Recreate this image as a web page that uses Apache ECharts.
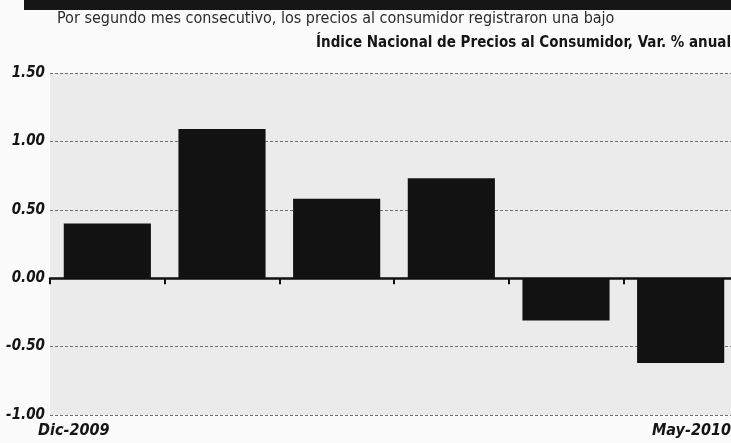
<!DOCTYPE html>
<html>
<head>
<meta charset="utf-8">
<script src="https://cdn.jsdelivr.net/npm/echarts@6/dist/echarts.min.js"></script>
<style>
    html, body { margin: 0; padding: 0; background: #fbfbfb; overflow: hidden; }
    /* el grafico original sale cortado por la derecha */
    #chart { width: 738px; height: 443px; }
</style>
</head>
<body>
<div id="chart"></div>
<script>
// datos
const categories = ['Dic-2009', 'Ene-2010', 'Feb-2010', 'Mar-2010', 'Abr-2010', 'May-2010'];
const inpcVar = [0.40, 1.09, 0.58, 0.73, -0.31, -0.62];
const yTicks = [-1.0, -0.5, 0.0, 0.5, 1.0, 1.5];

const subtitle = 'Por segundo mes consecutivo, los precios al consumidor registraron una bajo';
const title = 'Índice Nacional de Precios al Consumidor, Var. % anual';

const FONT = "'Liberation Sans Narrow', 'DejaVu Sans Condensed', 'Liberation Sans', sans-serif";

const chart = echarts.init(document.getElementById('chart'));

chart.setOption({
    backgroundColor: '#fbfbfb',
    animation: false,
    textStyle: { fontFamily: FONT },
    graphic: [
        // franja negra superior
        { type: 'rect', left: 24, top: 0, shape: { width: 714, height: 10 }, style: { fill: '#161616' } },
        { type: 'text', left: 57, top: 11, style: { text: subtitle, fill: '#2a2a2a', font: '16px ' + FONT } },
        { type: 'text', right: 7, top: 36, style: { text: title, fill: '#151515', font: 'bold 15px ' + FONT } },
        { type: 'text', left: 38, top: 423, style: { text: categories[0], fill: '#151515', font: 'italic bold 16px ' + FONT } },
        { type: 'text', right: 7, top: 423, style: { text: categories[categories.length - 1], fill: '#151515', font: 'italic bold 16px ' + FONT } }
    ],
    grid: {
        left: 50,
        right: 0,
        top: 73,
        bottom: 28,
        show: true,
        backgroundColor: '#ebebeb',
        borderWidth: 0
    },
    xAxis: {
        type: 'category',
        data: categories,
        axisLine: { onZero: true, lineStyle: { color: '#111', width: 2.5 } },
        axisTick: { show: true, length: 6, lineStyle: { color: '#111', width: 2 } },
        axisLabel: { show: false },
        splitLine: { show: false }
    },
    yAxis: {
        type: 'value',
        min: yTicks[0],
        max: yTicks[yTicks.length - 1],
        interval: 0.5,
        axisLine: { show: false },
        axisTick: { show: false },
        axisLabel: {
            margin: 5,
            color: '#151515',
            fontFamily: FONT,
            fontSize: 15,
            fontWeight: 'bold',
            fontStyle: 'italic',
            formatter: v => v.toFixed(2)
        },
        splitLine: {
            lineStyle: { color: '#6f6f6f', width: 1, type: [3, 2] }
        }
    },
    series: [
        {
            type: 'bar',
            data: inpcVar,
            barCategoryGap: '24%',
            itemStyle: { color: '#121212' }
        }
    ]
});
</script>
</body>
</html>
